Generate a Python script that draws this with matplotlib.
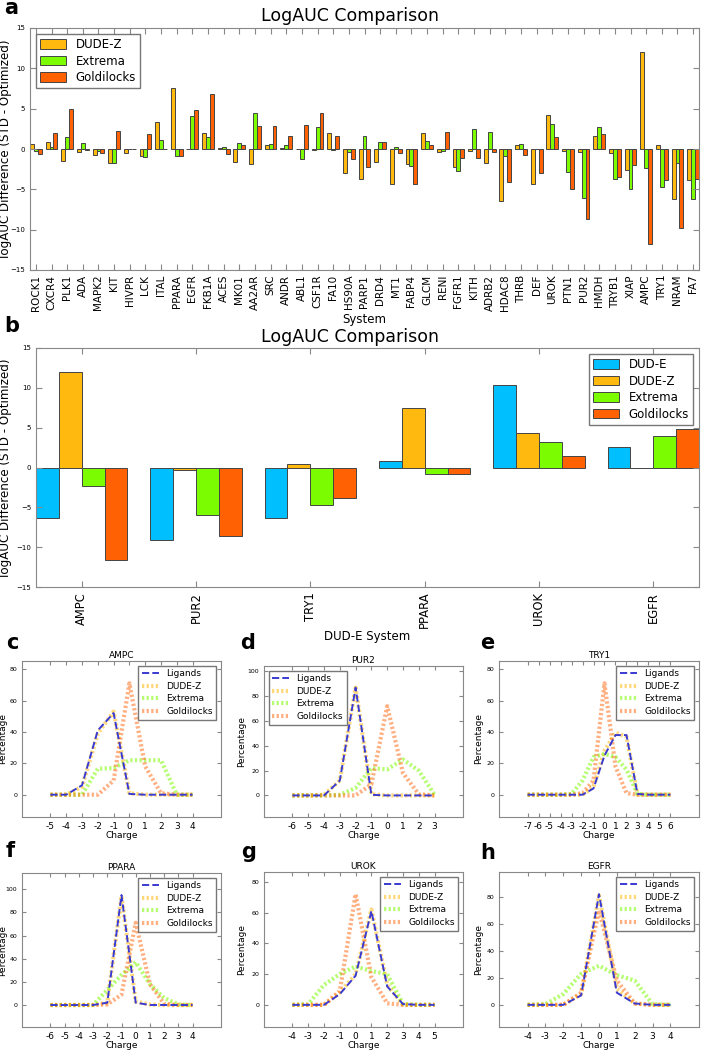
import matplotlib
matplotlib.use('Agg')
import matplotlib.pyplot as plt
from matplotlib.ticker import MultipleLocator

W, H = 701, 1050

# ---- panel a data: logAUC difference per DUD-E system
systems = ['ROCK1', 'CXCR4', 'PLK1', 'ADA', 'MAPK2', 'KIT', 'HIVPR', 'LCK', 'ITAL', 'PPARA',
           'EGFR', 'FKB1A', 'ACES', 'MK01', 'AA2AR', 'SRC', 'ANDR', 'ABL1', 'CSF1R', 'FA10',
           'HS90A', 'PARP1', 'DRD4', 'MT1', 'FABP4', 'GLCM', 'RENI', 'FGFR1', 'KITH', 'ADRB2',
           'HDAC8', 'THRB', 'DEF', 'UROK', 'PTN1', 'PUR2', 'HMDH', 'TRYB1', 'XIAP', 'AMPC',
           'TRY1', 'NRAM', 'FA7']
dudez = [0.66, 0.83, -1.45, -0.37, -0.75, -1.74, -0.45, -0.83, 3.4, 7.55,
         -0.05, 2.03, 0.1, -1.58, -1.9, 0.5, 0.12, -0.05, -0.12, 2.0,
         -2.95, -3.78, -1.58, -4.36, -1.9, 2.0, -0.41, -2.24, -0.2, -1.78,
         -6.43, 0.5, -4.3, 4.27, -0.2, -0.37, 1.58, -0.54, -2.61, 12.0,
         0.5, -6.22, -3.86]
extrema = [-0.3, 0.2, 1.45, 0.75, -0.25, -1.74, -0.05, -1.0, 1.16, -0.83,
           4.07, 1.5, 0.25, 0.75, 4.44, 0.62, 0.45, -1.25, 2.78, -0.12,
           -0.41, 1.62, 0.91, 0.29, -2.07, 1.0, -0.25, -2.7, 2.45, 2.1,
           -0.87, 0.66, -0.05, 3.15, -2.86, -6.06, 2.78, -3.73, -5.0, -2.37,
           -4.73, -1.78, -6.14]
goldilocks = [-0.58, 2.0, 4.9, -0.12, -0.45, 2.28, -0.05, 1.8, -0.05, -0.83,
              4.85, 6.85, -0.58, 0.45, 2.86, 2.82, 1.58, 2.95, 4.52, 1.62,
              -1.29, -2.28, 0.91, -0.54, -4.36, 0.45, 2.1, -1.12, -1.12, -0.33,
              -4.1, -0.79, -3.0, 1.45, -5.0, -8.67, 1.9, -3.49, -2.03, -11.8,
              -3.86, -9.8, -3.69]

# ---- panel b data: selected systems incl. original DUD-E
selected = ['AMPC', 'PUR2', 'TRY1', 'PPARA', 'UROK', 'EGFR']
sel_dude = [-6.3, -9.05, -6.39, 0.83, 10.3, 2.6]
sel_dudez = [11.95, -0.33, 0.46, 7.5, 4.27, -0.08]
sel_extrema = [-2.37, -6.0, -4.65, -0.79, 3.15, 3.98]
sel_goldilocks = [-11.66, -8.55, -3.86, -0.83, 1.45, 4.8]

# ---- panels c-h: charge distributions (percentage)
ampc_charge = [-5, -4, -3, -2, -1, 0, 1, 2, 3, 4]
ampc_lig = [0, 0, 6, 41, 52, 0.5, 0, 0, 0, 0]
ampc_dz = [0, 0, 5, 39, 53, 1, 0, 0, 0, 0]
ampc_ex = [0, 0, 0, 16.5, 17, 22, 22, 22, 0, 0]
ampc_gl = [0, 0, 0, 0, 9, 71, 18, 1, 0, 0]

pur2_charge = [-6, -5, -4, -3, -2, -1, 0, 1, 2, 3]
pur2_lig = [0, 0, 0, 12, 87, 0.5, 0, 0, 0, 0]
pur2_dz = [0, 0, 0.5, 12, 87, 1, 0, 0, 0, 0]
pur2_ex = [0, 0, 0, 0.5, 6, 22, 21, 29, 20, 0.5]
pur2_gl = [0, 0, 0, 0, 0, 9, 72, 18, 1, 0]

try1_charge = [-7, -6, -5, -4, -3, -2, -1, 0, 1, 2, 3, 4, 5, 6]
try1_lig = [0, 0, 0, 0, 0, 0, 4, 25, 38, 38, 0.5, 0, 0, 0]
try1_dz = [0, 0, 0, 0, 0, 0, 5, 28, 39.5, 37, 0, 0, 0, 0]
try1_ex = [0, 0, 0, 0, 0.5, 9, 24, 26, 24, 16, 0.5, 0, 0, 0]
try1_gl = [0, 0, 0, 0, 0, 1, 9, 71, 18, 1, 0, 0, 0, 0]

ppara_charge = [-6, -5, -4, -3, -2, -1, 0, 1, 2, 3, 4]
ppara_lig = [0, 0, 0, 0, 2, 95, 2, 0, 0, 0, 0]
ppara_dz = [0, 0, 0, 0, 2, 94, 3, 0.5, 0, 0, 0]
ppara_ex = [0, 0, 0, 0, 13, 26, 37, 18, 6, 0.5, 0]
ppara_gl = [0, 0, 0, 0, 0.5, 9, 71, 18, 1, 0, 0]

urok_charge = [-4, -3, -2, -1, 0, 1, 2, 3, 4, 5]
urok_lig = [0, 0, 0, 7, 19, 61, 12, 0.5, 0, 0]
urok_dz = [0, 0, 0, 8, 20, 62, 13, 0, 0, 0]
urok_ex = [0, 0.5, 13, 20, 25, 22, 20, 0.5, 0, 0]
urok_gl = [0, 0, 0, 9, 72, 18, 1, 0, 0, 0]

egfr_charge = [-4, -3, -2, -1, 0, 1, 2, 3, 4]
egfr_lig = [0, 0, 0, 7, 82, 9, 1, 0, 0]
egfr_dz = [0, 0, 0, 8, 81, 12, 1, 0, 0]
egfr_ex = [0, 0.5, 8, 23, 29, 22, 18, 0.5, 0]
egfr_gl = [0, 0, 0, 9, 70, 18, 1, 0, 0]

C_DUDE = '#00BFFF'
C_DUDEZ = '#FFB90F'
C_EXTREMA = '#7CFC00'
C_GOLD = '#FF6103'
C_LIG = '#3a3ad0'
SPINE = '#888888'
EDGE = '#444444'
DOTS = (0, (0.55, 0.55))


def px_axes(fig, left, top, right, bottom):
    return fig.add_axes([left / W, 1 - bottom / H, (right - left) / W, (bottom - top) / H])


def style_axes(ax, ylabelsize):
    for sp in ax.spines.values():
        sp.set_color(SPINE)
    ax.tick_params(direction='in', top=True, right=True, color=SPINE, length=4, width=0.8)
    ax.tick_params(axis='y', labelsize=ylabelsize)


def panel_letter(fig, x, y, s):
    fig.text(x / W, 1 - y / H, s, fontsize=15, fontweight='bold', ha='center', va='center')


def bar_panel(ax, names, series, colors, labels, width, labelx, xlabel, legloc, ticksize):
    n = len(names)
    for k, (vals, col, lab) in enumerate(zip(series, colors, labels)):
        ax.bar([i + k * width for i in range(n)], vals, width, align='edge', color=col,
               edgecolor=EDGE, linewidth=0.7, label=lab)
    ax.set_xlim(0, n - 1 + width * len(series))
    ax.set_ylim(-15, 15)
    ax.yaxis.set_major_locator(MultipleLocator(5))
    ax.set_xticks([i + width * len(series) / 2 for i in range(n)])
    ax.set_xticklabels(names, rotation=90, fontsize=ticksize)
    style_axes(ax, 5)
    ax.set_ylabel('logAUC Difference (STD - Optimized)', fontsize=8.6)
    ax.yaxis.set_label_coords(labelx, 0.5)
    ax.set_xlabel(xlabel, fontsize=8.5, labelpad=1)
    leg = ax.legend(loc=legloc, fontsize=8.5, fancybox=False, handlelength=2.2,
                    handleheight=0.9, borderpad=0.35, labelspacing=0.3)
    leg.get_frame().set_edgecolor('#555555')


def charge_panel(ax, charge, lig, dz, ex, gl, title, legloc, labelx):
    ax.plot(charge, dz, linestyle=DOTS, color=C_DUDEZ, lw=3, alpha=0.55, label='DUDE-Z', zorder=2)
    ax.plot(charge, ex, linestyle=DOTS, color=C_EXTREMA, lw=3, alpha=0.55, label='Extrema', zorder=2)
    ax.plot(charge, gl, linestyle=DOTS, color=C_GOLD, lw=3, alpha=0.5, label='Goldilocks', zorder=2)
    ax.plot(charge, lig, '--', color=C_LIG, lw=1.4, label='Ligands', zorder=3)
    ax.margins(0.2)
    ax.set_xticks(charge)
    ax.set_xticklabels([str(c) for c in charge], fontsize=6.5)
    ax.yaxis.set_major_locator(MultipleLocator(20))
    style_axes(ax, 4.5)
    ax.tick_params(length=3)
    ax.set_title(title, fontsize=6.5, pad=2)
    ax.set_ylabel('Percentage', fontsize=6.5)
    ax.yaxis.set_label_coords(labelx, 0.5)
    ax.set_xlabel('Charge', fontsize=6.5, labelpad=0)
    h, l = ax.get_legend_handles_labels()
    order = [3, 0, 1, 2]
    leg = ax.legend([h[i] for i in order], [l[i] for i in order], loc=legloc, fontsize=6.5,
                    fancybox=False, handlelength=1.9, borderpad=0.4, labelspacing=0.4)
    leg.get_frame().set_edgecolor('#555555')


fig = plt.figure(figsize=(W / 100, H / 100), dpi=100)

# panel a
ax_a = px_axes(fig, 30, 28, 699, 270)
bar_panel(ax_a, systems, [dudez, extrema, goldilocks], [C_DUDEZ, C_EXTREMA, C_GOLD],
          ['DUDE-Z', 'Extrema', 'Goldilocks'], 0.25, -0.027, 'System', 'upper left', 7.5)
fig.text(350 / W, 1 - 16 / H, 'LogAUC Comparison', fontsize=12.5, ha='center', va='center')

# panel b
ax_b = px_axes(fig, 36, 348, 699, 587)
bar_panel(ax_b, selected, [sel_dude, sel_dudez, sel_extrema, sel_goldilocks],
          [C_DUDE, C_DUDEZ, C_EXTREMA, C_GOLD],
          ['DUD-E', 'DUDE-Z', 'Extrema', 'Goldilocks'], 0.2, -0.036, 'DUD-E System', 'upper right', 8.3)
fig.text(350 / W, 1 - 337 / H, 'LogAUC Comparison', fontsize=12.5, ha='center', va='center')

# panels c-h
ax_c = px_axes(fig, 22, 661, 221, 817)
charge_panel(ax_c, ampc_charge, ampc_lig, ampc_dz, ampc_ex, ampc_gl, 'AMPC', 'upper right', -0.073)
ax_d = px_axes(fig, 264, 666, 463, 817)
charge_panel(ax_d, pur2_charge, pur2_lig, pur2_dz, pur2_ex, pur2_gl, 'PUR2', 'upper left', -0.09)
ax_e = px_axes(fig, 499, 661, 699, 817)
charge_panel(ax_e, try1_charge, try1_lig, try1_dz, try1_ex, try1_gl, 'TRY1', 'upper right', -0.08)
ax_f = px_axes(fig, 22, 873, 221, 1027)
charge_panel(ax_f, ppara_charge, ppara_lig, ppara_dz, ppara_ex, ppara_gl, 'PPARA', 'upper right', -0.073)
ax_g = px_axes(fig, 264, 872, 463, 1027)
charge_panel(ax_g, urok_charge, urok_lig, urok_dz, urok_ex, urok_gl, 'UROK', 'upper right', -0.09)
ax_h = px_axes(fig, 499, 872, 699, 1027)
charge_panel(ax_h, egfr_charge, egfr_lig, egfr_dz, egfr_ex, egfr_gl, 'EGFR', 'upper right', -0.08)

for x, y, s in [(11, 8, 'a'), (12, 326, 'b'), (12, 643, 'c'), (248, 643, 'd'), (487, 643, 'e'),
                (10, 851, 'f'), (249, 852, 'g'), (488, 853, 'h')]:
    panel_letter(fig, x, y, s)

fig.savefig('out.png', dpi=100)
